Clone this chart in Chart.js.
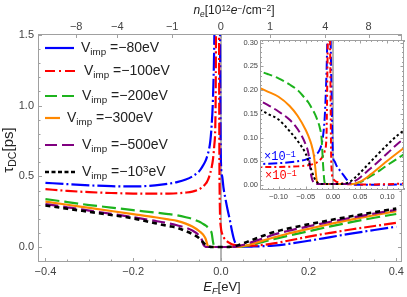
<!DOCTYPE html>
<html>
<head>
<meta charset="utf-8">
<script src="https://cdn.jsdelivr.net/npm/chart.js@4.4.0/dist/chart.umd.min.js"></script>
<style>
  html, body { margin: 0; padding: 0; background: #fff; }
  #wrap { position: relative; width: 407px; height: 297px; overflow: hidden;
          font-family: "Liberation Sans", Arial, sans-serif; color: #222; }
  canvas { position: absolute; }
  #main { left: 0; top: 0; }
  #inset { left: 230px; top: 30px; }
  .lbl { position: absolute; white-space: nowrap; line-height: 1; }
  .sub { font-size: 0.7em; vertical-align: -0.3em; }
  .sup { font-size: 0.7em; vertical-align: 0.45em; }
  .leg { position: absolute; left: 45px; height: 14px; display: flex; align-items: center;
         font-size: 14px; white-space: nowrap; }
  .leg svg { display: block; margin-right: 7px; }
  .scale { font-family: "Liberation Mono", "DejaVu Sans Mono", monospace; font-size: 12px; }
</style>
</head>
<body>
<div id="wrap">
  <canvas id="main" width="407" height="297"></canvas>
  <canvas id="inset" width="177" height="180"></canvas>
  <div id="legend"></div>
  <div class="lbl" style="left:9px;top:150px;font-size:15px;transform:translate(-50%,-50%) rotate(-90deg);">&tau;<span class="sub">DC</span>[ps]</div>
  <div class="lbl" style="left:222px;top:288px;font-size:13px;transform:translate(-50%,-50%);"><i>E</i><span class="sub"><i>F</i></span>[eV]</div>
  <div class="lbl" style="left:234px;top:11px;font-size:12px;transform:translate(-50%,-50%);"><i>n</i><span class="sub"><i>e</i></span>[10<span class="sup">12</span><i>e</i><span class="sup">&minus;</span>/cm<span class="sup">&minus;2</span>]</div>
  <div class="lbl scale" style="left:264px;top:157px;color:#0000ff;transform:translateY(-50%);">&times;10<span class="sup">&minus;1</span></div>
  <div class="lbl scale" style="left:265px;top:176px;color:#ff0000;transform:translateY(-50%);">&times;10<span class="sup">&minus;1</span></div>
</div>
<script>
// Fermi energy grid [eV]
const eF = [-0.4, -0.35, -0.3, -0.25, -0.2, -0.15, -0.12, -0.1, -0.08, -0.065,
  -0.05, -0.045, -0.04, -0.035, -0.032, -0.03, -0.027, -0.024, -0.021, -0.018,
  -0.015, -0.012, -0.009, -0.006, -0.003, 0, 0.003, 0.006, 0.01, 0.015,
  0.02, 0.025, 0.03, 0.035, 0.04, 0.05, 0.06, 0.07, 0.08, 0.1,
  0.12, 0.15, 0.2, 0.25, 0.3, 0.35, 0.4];

// tau_DC [ps] for each impurity potential
const tauV80 = [0.455, 0.445, 0.437, 0.431, 0.429, 0.437, 0.448, 0.46, 0.478, 0.5,
  0.535, 0.555, 0.58, 0.61, 0.635, 0.655, 0.69, 0.75, 0.86, 1.05,
  1.45, 2.3, 3.6, 4.0, 2.2, 0.62, 0.5, 0.42, 0.35, 0.27,
  0.2, 0.12, 0.055, 0.02, 0.008, 0.004, 0.004, 0.005, 0.006, 0.008,
  0.012, 0.022, 0.046, 0.072, 0.098, 0.122, 0.145];
const tauV100 = [0.41, 0.398, 0.389, 0.383, 0.379, 0.378, 0.379, 0.381, 0.386, 0.393,
  0.408, 0.418, 0.43, 0.447, 0.46, 0.472, 0.495, 0.525, 0.565, 0.62,
  0.72, 1.0, 3.2, 3.4, 0.45, 0.14, 0.095, 0.072, 0.055, 0.04,
  0.03, 0.022, 0.017, 0.014, 0.012, 0.01, 0.01, 0.011, 0.013, 0.018,
  0.027, 0.044, 0.075, 0.102, 0.127, 0.15, 0.172];
const tauV200 = [0.34, 0.319, 0.298, 0.28, 0.262, 0.245, 0.234, 0.225, 0.212, 0.2,
  0.181, 0.174, 0.164, 0.154, 0.147, 0.141, 0.132, 0.12, 0.1, 0.04,
  0.004, 0.002, 0.002, 0.002, 0.002, 0.002, 0.002, 0.002, 0.002, 0.002,
  0.002, 0.002, 0.002, 0.002, 0.003, 0.006, 0.012, 0.019, 0.026, 0.042,
  0.057, 0.079, 0.113, 0.147, 0.179, 0.208, 0.235];
const tauV300 = [0.322, 0.3, 0.278, 0.256, 0.234, 0.212, 0.197, 0.186, 0.167, 0.146,
  0.116, 0.103, 0.087, 0.062, 0.032, 0.01, 0.003, 0.002, 0.002, 0.002,
  0.002, 0.002, 0.002, 0.002, 0.002, 0.002, 0.002, 0.002, 0.002, 0.002,
  0.002, 0.002, 0.002, 0.002, 0.003, 0.007, 0.014, 0.023, 0.032, 0.051,
  0.069, 0.094, 0.13, 0.165, 0.197, 0.226, 0.255];
const tauV500 = [0.305, 0.282, 0.259, 0.236, 0.212, 0.186, 0.169, 0.155, 0.138, 0.118,
  0.085, 0.066, 0.02, 0.004, 0.002, 0.002, 0.002, 0.002, 0.002, 0.002,
  0.002, 0.002, 0.002, 0.002, 0.002, 0.002, 0.002, 0.002, 0.002, 0.002,
  0.002, 0.002, 0.003, 0.005, 0.008, 0.016, 0.026, 0.036, 0.046, 0.067,
  0.088, 0.113, 0.148, 0.18, 0.21, 0.238, 0.265];
const tauV1000 = [0.295, 0.272, 0.25, 0.228, 0.204, 0.17, 0.15, 0.138, 0.114, 0.093,
  0.066, 0.051, 0.033, 0.017, 0.01, 0.007, 0.004, 0.003, 0.002, 0.002,
  0.002, 0.002, 0.002, 0.002, 0.002, 0.002, 0.002, 0.002, 0.002, 0.002,
  0.003, 0.004, 0.006, 0.01, 0.015, 0.026, 0.038, 0.05, 0.062, 0.085,
  0.106, 0.13, 0.162, 0.192, 0.22, 0.247, 0.273];

const vImpLabels = ['\u221280eV', '\u2212100eV', '\u2212200eV', '\u2212300eV', '\u2212500eV', '\u221210<span class="sup">3</span>eV'];
const insetScale = [0.1, 0.1, 1, 1, 1, 1];   // blue and red are shown x10^-1 in the inset

// axis ticks
const xTicks = [-0.4, -0.2, 0, 0.2, 0.4];
const yTicks = [0, 0.5, 1.0, 1.5];
const nTickLabels = ['\u22128', '\u22124', '\u22121', '0', '1', '4', '8'];
const nTickPos = [-0.33, -0.236, -0.111, 0, 0.112, 0.238, 0.337];
const insetXTicks = [-0.1, -0.05, 0, 0.05, 0.1];
const insetYTicks = [0, 0.05, 0.1, 0.15, 0.2, 0.25, 0.3];

const styles = [
  { color: '#0000ff', width: 2.2, dash: [18, 3, 2, 3], insetDash: [9, 3, 2, 3], legDash: '' },
  { color: '#ff0000', width: 2.2, dash: [12, 3, 2, 3], insetDash: [6, 3, 2, 3], legDash: '10,4,2,4' },
  { color: '#1db31d', width: 2.2, dash: [14, 5], insetDash: [9, 4], legDash: '12,5' },
  { color: '#ff8800', width: 2.2, dash: [], insetDash: [], legDash: '' },
  { color: '#800080', width: 2.2, dash: [13, 5], insetDash: [9, 4], legDash: '12,5' },
  { color: '#000000', width: 2.6, dash: [5, 4], insetDash: [2.5, 2.5], legDash: '4,2.5' }
];
const series = [tauV80, tauV100, tauV200, tauV300, tauV500, tauV1000];

const frameColor = '#a0a0a0';
const labelColor = '#444';
const zeroColor = '#b4b4b4';
Chart.defaults.font.family = "'Liberation Sans', Arial, sans-serif";

function fmt(v, d) {
  const s = Math.abs(v) < 1e-9 ? (0).toFixed(d) : v.toFixed(d);
  return s.replace('-', '\u2212');
}
function steps(from, to, step) {
  const out = [];
  for (let v = from; v <= to + 1e-9; v += step) out.push(+v.toFixed(4));
  return out;
}

// frame with inward tick marks, like the original plot
const frameTicks = {
  id: 'frameTicks',
  beforeDraw(chart, args, o) {
    if (!o.fill) return;
    const a = chart.chartArea;
    chart.ctx.save();
    chart.ctx.fillStyle = o.fill;
    chart.ctx.fillRect(a.left, a.top, a.width, a.height);
    chart.ctx.restore();
  },
  afterDraw(chart, args, o) {
    const { ctx, chartArea: a, scales } = chart;
    ctx.save();
    ctx.strokeStyle = o.color;
    ctx.lineWidth = 1;
    ctx.strokeRect(a.left + 0.5, a.top + 0.5, a.width - 1, a.height - 1);
    ctx.beginPath();
    o.sides.forEach(s => {
      const sc = scales[s.scale];
      [[s.major, o.majorLen], [s.minor || [], o.minorLen]].forEach(([vals, len]) => {
        vals.forEach(v => {
          if (v < sc.min || v > sc.max) return;
          const p = Math.round(sc.getPixelForValue(v)) + 0.5;
          if (s.side === 'bottom') { ctx.moveTo(p, a.bottom); ctx.lineTo(p, a.bottom - len); }
          if (s.side === 'top') { ctx.moveTo(p, a.top); ctx.lineTo(p, a.top + len); }
          if (s.side === 'left') { ctx.moveTo(a.left, p); ctx.lineTo(a.left + len, p); }
          if (s.side === 'right') { ctx.moveTo(a.right, p); ctx.lineTo(a.right - len, p); }
        });
      });
    });
    ctx.stroke();
    // tick labels for the top (density) axis
    o.sides.forEach(s => {
      if (!s.labels) return;
      const sc = scales[s.scale];
      ctx.fillStyle = labelColor;
      ctx.font = s.font;
      ctx.textAlign = 'center';
      ctx.textBaseline = 'middle';
      s.major.forEach((v, i) => ctx.fillText(s.labels[i], sc.getPixelForValue(v), a.top - s.offset));
    });
    ctx.restore();
  }
};

function makeDatasets(inset) {
  return series.map((vals, i) => ({
    data: eF.map((e, k) => ({ x: e, y: vals[k] * (inset ? insetScale[i] : 1) })),
    borderColor: styles[i].color,
    borderWidth: inset ? 2 : styles[i].width,
    borderDash: inset ? styles[i].insetDash : styles[i].dash,
    pointRadius: 0,
    fill: false,
    cubicInterpolationMode: 'monotone',
    order: series.length - i
  }));
}

const zeroGrid = {
  drawTicks: false,
  lineWidth: 2,
  color: c => (c.tick && Math.abs(c.tick.value) < 1e-9) ? zeroColor : 'rgba(0,0,0,0)'
};

// main chart
new Chart(document.getElementById('main'), {
  type: 'line',
  data: { datasets: makeDatasets(false) },
  options: {
    responsive: false,
    animation: false,
    layout: { padding: { left: 0, right: 3, top: 0, bottom: 0 } },
    plugins: {
      legend: { display: false },
      tooltip: { enabled: false },
      frameTicks: {
        color: frameColor, majorLen: 4, minorLen: 2.5,
        sides: [
          { side: 'bottom', scale: 'x', major: xTicks, minor: steps(-0.4, 0.4, 0.05) },
          { side: 'top', scale: 'x2', major: nTickPos, labels: nTickLabels,
            font: "11px 'Liberation Sans', Arial, sans-serif", offset: 7.5 },
          { side: 'left', scale: 'y', major: yTicks, minor: steps(-0.1, 1.5, 0.1) },
          { side: 'right', scale: 'y', major: yTicks, minor: steps(-0.1, 1.5, 0.1) }
        ]
      }
    },
    scales: {
      x: {
        type: 'linear', position: 'bottom', min: -0.417, max: 0.413,
        afterBuildTicks: s => { s.ticks = xTicks.map(v => ({ value: v })); },
        afterFit: s => { s.height = 35; },
        ticks: { callback: v => fmt(v, 1), color: labelColor, font: { size: 11 }, padding: 3, maxRotation: 0, autoSkip: false },
        grid: zeroGrid,
        border: { display: false }
      },
      x2: {
        type: 'linear', position: 'top', min: -0.417, max: 0.413,
        afterBuildTicks: s => { s.ticks = nTickPos.map(v => ({ value: v })); },
        afterFit: s => { s.height = 34; },
        ticks: { display: false },
        grid: { display: false, drawTicks: false },
        border: { display: false }
      },
      y: {
        type: 'linear', min: -0.104, max: 1.505,
        afterBuildTicks: s => { s.ticks = yTicks.map(v => ({ value: v })); },
        afterFit: s => { s.width = 38; },
        ticks: { callback: v => fmt(v, 1), color: labelColor, font: { size: 11 }, padding: 4 },
        grid: { display: false, drawTicks: false },
        border: { display: false }
      }
    }
  },
  plugins: [frameTicks]
});

// inset chart
new Chart(document.getElementById('inset'), {
  type: 'line',
  data: { datasets: makeDatasets(true) },
  options: {
    responsive: false,
    animation: false,
    layout: { padding: { left: 0, right: 3, top: 10, bottom: 0 } },
    plugins: {
      legend: { display: false },
      tooltip: { enabled: false },
      frameTicks: {
        color: frameColor, majorLen: 3.5, minorLen: 2, fill: '#fff',
        sides: [
          { side: 'bottom', scale: 'x', major: insetXTicks, minor: steps(-0.13, 0.13, 0.01) },
          { side: 'top', scale: 'x', major: insetXTicks, minor: steps(-0.13, 0.13, 0.01) },
          { side: 'left', scale: 'y', major: insetYTicks, minor: steps(0, 0.3, 0.01) },
          { side: 'right', scale: 'y', major: insetYTicks, minor: steps(0, 0.3, 0.01) }
        ]
      }
    },
    scales: {
      x: {
        type: 'linear', min: -0.134, max: 0.1305,
        afterBuildTicks: s => { s.ticks = insetXTicks.map(v => ({ value: v })); },
        afterFit: s => { s.height = 20; },
        ticks: { callback: v => fmt(v, 2), color: labelColor, font: { size: 7.5 }, padding: 2.5, maxRotation: 0, autoSkip: false },
        grid: zeroGrid,
        border: { display: false }
      },
      y: {
        type: 'linear', min: -0.0105, max: 0.3057,
        afterBuildTicks: s => { s.ticks = insetYTicks.map(v => ({ value: v })); },
        afterFit: s => { s.width = 30; },
        ticks: { callback: v => fmt(v, 2), color: labelColor, font: { size: 7.5 }, padding: 2, autoSkip: false },
        grid: { display: false, drawTicks: false },
        border: { display: false }
      }
    }
  },
  plugins: [frameTicks]
});

// legend, drawn in HTML for the subscripts
const legendRows = [47.7, 71, 95.7, 118.3, 145, 172.3];
const legendLen = [29, 32, 30, 15, 30, 30];
const legend = document.getElementById('legend');
vImpLabels.forEach((txt, i) => {
  const st = styles[i];
  const row = document.createElement('div');
  row.className = 'leg';
  row.style.top = (legendRows[i] - 7) + 'px';
  row.innerHTML =
    '<svg width="' + legendLen[i] + '" height="6"><line x1="0" y1="3" x2="' + legendLen[i] + '" y2="3" stroke="' + st.color +
    '" stroke-width="' + st.width + '"' + (st.legDash ? ' stroke-dasharray="' + st.legDash + '"' : '') + '/></svg>' +
    '<span>V<span class="sub">imp</span> =' + txt + '</span>';
  legend.appendChild(row);
});
</script>
</body>
</html>
